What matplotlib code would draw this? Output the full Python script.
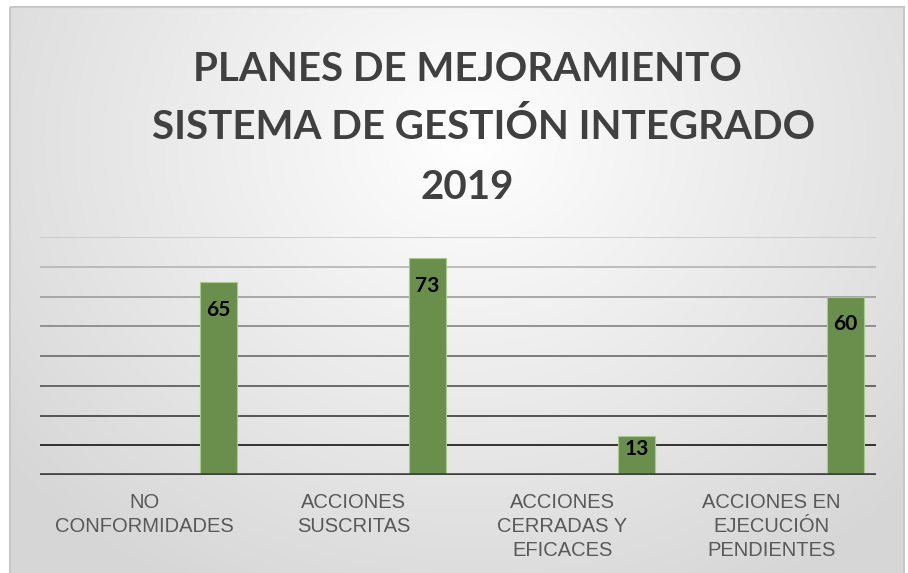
import numpy as np
import matplotlib
matplotlib.use("Agg")
import matplotlib.pyplot as plt
from matplotlib.patches import Rectangle

categories = ["NO\nCONFORMIDADES", "ACCIONES\nSUSCRITAS", "ACCIONES\nCERRADAS Y\nEFICACES", "ACCIONES EN\nEJECUCIÓN\nPENDIENTES"]
values = [65, 73, 13, 60]
title_lines = ["PLANES DE MEJORAMIENTO", "SISTEMA DE GESTIÓN INTEGRADO", "2019"]
yticks = [10, 20, 30, 40, 50, 60, 70, 80]
grid_colors = ["#141414", "#3c3c3c", "#555555", "#6a6a6a", "#848484", "#9c9c9c", "#b4b4b4", "#c6c6c6"]

W, H = 908, 573
fig = plt.figure(figsize=(W / 100, H / 100), dpi=100)
fig.patch.set_facecolor("white")

# background gradient panel
bg = fig.add_axes([0, 0, 1, 1], zorder=-10)
bg.set_xlim(0, W)
bg.set_ylim(H, 0)
bg.axis("off")
yy, xx = np.mgrid[0:H, 0:W]
cx, cy = 470, 140
r = np.sqrt(((xx - cx) / 1.15) ** 2 + (yy - cy) ** 2)
t = np.clip(r / 520, 0, 1)
top = np.array([1.0, 1.0, 1.0])
bot = np.array([0.84, 0.84, 0.84])
img = top[None, None, :] * (1 - t[..., None]) + bot[None, None, :] * t[..., None]
x0, y0, x1, y1 = 10, 7, 904, 573
bg.imshow(img[y0:y1, x0:x1], extent=[x0, x1, y1, y0], aspect="auto", interpolation="bilinear")
bg.add_patch(Rectangle((x0, y0), x1 - x0, y1 - y0 + 5, fill=False, ec="#c8c8c8", lw=1.5))

ax = fig.add_axes([40 / W, 1 - 475 / H, (876 - 40) / W, (475 - 237) / H])
ax.patch.set_alpha(0)
ax.set_xlim(-0.5, len(categories) - 0.5)
ax.set_ylim(0, 80)
for y, c in zip(yticks, grid_colors):
    ax.axhline(y, color=c, lw=1.2, zorder=1)
ax.axhline(0, color="#404040", lw=2.6, zorder=3)

offset = 0.354
width = 0.175
x = np.arange(len(categories)) + offset
bars = ax.bar(x, values, width=width, color="#6a8f4c", edgecolor="#a9c98f", lw=0.8, zorder=2)
for xi, v in zip(x, values):
    ypos = max(v - 9.4, v * 0.66)
    ax.text(xi, ypos, str(v), ha="center", va="center", fontsize=15, fontweight="bold",
            family="Lato", color="black", zorder=4)

for s in ax.spines.values():
    s.set_visible(False)
ax.set_yticks([])
ax.set_xticks(np.arange(len(categories)))
ax.set_xticklabels(categories, fontsize=14.5, family="Liberation Sans", color="#595959", linespacing=1.33)
ax.tick_params(axis="x", length=0, pad=13)

title_x = [467, 484, 467]
title_base = [81, 139, 199]
for s, tx, ty in zip(title_lines, title_x, title_base):
    fig.text(tx / W, 1 - ty / H, s, ha="center", va="baseline", fontsize=29, fontweight="bold",
             family="Lato", color="#404040")

fig.savefig("out.png", dpi=100)
